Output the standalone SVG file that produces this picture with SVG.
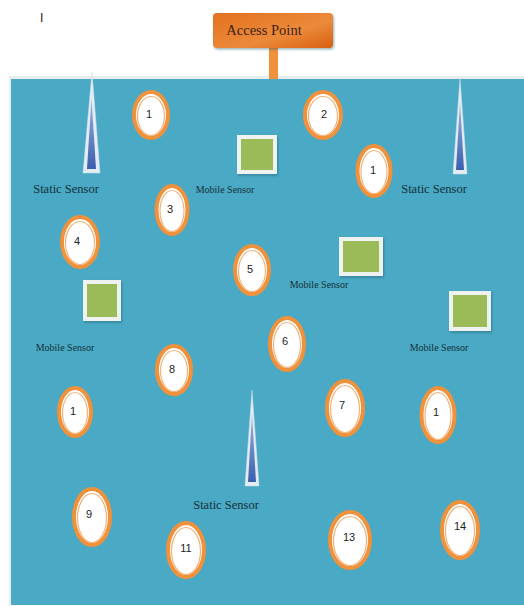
<svg xmlns="http://www.w3.org/2000/svg" width="524" height="606" viewBox="0 0 524 606">
<defs>
  <linearGradient id="apg" x1="0" y1="0" x2="1" y2="1">
    <stop offset="0" stop-color="#e2711f"/>
    <stop offset="0.6" stop-color="#ec8a3a"/>
    <stop offset="1" stop-color="#d95f12"/>
  </linearGradient>
  <linearGradient id="spk" x1="0" y1="0" x2="0" y2="1">
    <stop offset="0" stop-color="#9db4dc"/>
    <stop offset="1" stop-color="#3a5fae"/>
  </linearGradient>
  <filter id="sh" x="-20%" y="-20%" width="140%" height="140%">
    <feDropShadow dx="1" dy="1.5" stdDeviation="1" flood-color="#1d5566" flood-opacity="0.45"/>
  </filter>
</defs>
<style>
  .st { font-family: "Liberation Serif", "Times New Roman", serif; font-size: 12.5px; fill: #15303a; text-anchor: middle; }
  .mb { font-family: "Liberation Serif", "Times New Roman", serif; font-size: 10px; fill: #15303a; text-anchor: middle; }
  .num { font-family: "Liberation Sans", Arial, sans-serif; font-size: 11px; fill: #222; text-anchor: middle; }
  .ring { fill: #ffffff; stroke: #f0913c; stroke-width: 4; }
  .inner { fill: none; stroke: #f4b27a; stroke-width: 1.2; }
  .sq { fill: #9bbb59; stroke: #eef3f2; stroke-width: 4; }
  .spo { fill: #e4edf4; stroke: #cfdce8; stroke-width: 0.5; }
  .spi { fill: url(#spk); }
</style>

<rect x="0" y="0" width="524" height="606" fill="#ffffff"/>
<text x="40" y="22" font-family="Liberation Sans, Arial, sans-serif" font-size="12" fill="#222">I</text>

<!-- field -->
<rect x="9" y="76" width="515" height="4" fill="#e9ecee"/>
<rect x="9" y="76" width="2" height="530" fill="#e9ecee"/>
<rect x="11" y="79" width="513" height="526" fill="#4aa9c4"/>

<g id="connectors">
  <rect x="269" y="47" width="9" height="32" fill="#f0923c"/>
</g>

<g id="access-point">
  <rect x="213" y="13" width="120" height="35" rx="4" fill="url(#apg)" filter="url(#sh)"/>
  <text x="264" y="35" font-family="Liberation Serif, Times New Roman, serif" font-size="14.5" fill="#3a2410" text-anchor="middle">Access Point</text>
</g>

<!-- static sensors -->
<g id="static-sensor-1">
  <polygon class="spo" points="92,72 83,173 100,173"/>
  <polygon class="spi" points="91.5,98 87,169 96,169"/>
  <text class="st" x="66" y="193">Static Sensor</text>
</g>
<g id="static-sensor-2">
  <polygon class="spo" points="460,78 453,174 467,174"/>
  <polygon class="spi" points="460,102 456,170 464,170"/>
  <text class="st" x="434" y="193">Static Sensor</text>
</g>
<g id="static-sensor-3">
  <polygon class="spo" points="252,390 245,486 259,486"/>
  <polygon class="spi" points="252,414 248,482 256,482"/>
  <text class="st" x="226" y="509">Static Sensor</text>
</g>

<!-- mobile sensors -->
<g id="mobile-sensor-1">
  <rect class="sq" x="239" y="137" width="36" height="35" filter="url(#sh)"/>
  <text class="mb" x="225" y="193">Mobile Sensor</text>
</g>
<g id="mobile-sensor-2">
  <rect class="sq" x="341" y="239" width="40" height="35" filter="url(#sh)"/>
  <text class="mb" x="319" y="288">Mobile Sensor</text>
</g>
<g id="mobile-sensor-3">
  <rect class="sq" x="85" y="282" width="34" height="37" filter="url(#sh)"/>
  <text class="mb" x="65" y="351">Mobile Sensor</text>
</g>
<g id="mobile-sensor-4">
  <rect class="sq" x="451" y="293" width="38" height="36" filter="url(#sh)"/>
  <text class="mb" x="439" y="351">Mobile Sensor</text>
</g>

<!-- nodes -->
<g id="node-1a"><ellipse class="ring" cx="151" cy="115" rx="17" ry="23"/><ellipse class="inner" cx="151" cy="116" rx="13.5" ry="19.5"/><text class="num" x="149" y="118">1</text></g>
<g id="node-2"><ellipse class="ring" cx="323" cy="115" rx="18" ry="23"/><ellipse class="inner" cx="323" cy="116" rx="14.5" ry="19.5"/><text class="num" x="324" y="118">2</text></g>
<g id="node-1b"><ellipse class="ring" cx="374" cy="171" rx="16.5" ry="25"/><ellipse class="inner" cx="374" cy="172" rx="13" ry="21.5"/><text class="num" x="373" y="174">1</text></g>
<g id="node-3"><ellipse class="ring" cx="172" cy="210" rx="15.5" ry="24"/><ellipse class="inner" cx="172" cy="211" rx="12" ry="20.5"/><text class="num" x="170" y="213">3</text></g>
<g id="node-4"><ellipse class="ring" cx="80" cy="242" rx="18" ry="25"/><ellipse class="inner" cx="80" cy="243" rx="14.5" ry="21.5"/><text class="num" x="77" y="245">4</text></g>
<g id="node-5"><ellipse class="ring" cx="252" cy="270" rx="17" ry="24"/><ellipse class="inner" cx="252" cy="271" rx="13.5" ry="20.5"/><text class="num" x="250" y="273">5</text></g>
<g id="node-6"><ellipse class="ring" cx="287" cy="344" rx="17" ry="26"/><ellipse class="inner" cx="287" cy="345" rx="13.5" ry="22.5"/><text class="num" x="285" y="345">6</text></g>
<g id="node-8"><ellipse class="ring" cx="174" cy="370" rx="17" ry="24"/><ellipse class="inner" cx="174" cy="371" rx="13.5" ry="20.5"/><text class="num" x="172" y="373">8</text></g>
<g id="node-7"><ellipse class="ring" cx="345" cy="408" rx="18" ry="27"/><ellipse class="inner" cx="345" cy="409" rx="14.5" ry="23.5"/><text class="num" x="342" y="409">7</text></g>
<g id="node-1c"><ellipse class="ring" cx="75" cy="412" rx="16" ry="24"/><ellipse class="inner" cx="75" cy="413" rx="12.5" ry="20.5"/><text class="num" x="73" y="415">1</text></g>
<g id="node-1d"><ellipse class="ring" cx="438" cy="415" rx="16.5" ry="27"/><ellipse class="inner" cx="438" cy="416" rx="13" ry="23.5"/><text class="num" x="436" y="416">1</text></g>
<g id="node-9"><ellipse class="ring" cx="92" cy="517" rx="18" ry="28"/><ellipse class="inner" cx="92" cy="518" rx="14.5" ry="24.5"/><text class="num" x="89" y="518">9</text></g>
<g id="node-11"><ellipse class="ring" cx="186" cy="550" rx="18" ry="27"/><ellipse class="inner" cx="186" cy="551" rx="14.5" ry="23.5"/><text class="num" x="186" y="552">11</text></g>
<g id="node-13"><ellipse class="ring" cx="350" cy="540" rx="20" ry="28"/><ellipse class="inner" cx="350" cy="541" rx="16.5" ry="24.5"/><text class="num" x="349" y="541">13</text></g>
<g id="node-14"><ellipse class="ring" cx="460" cy="530" rx="18" ry="28"/><ellipse class="inner" cx="460" cy="531" rx="14.5" ry="24.5"/><text class="num" x="460" y="530">14</text></g>
</svg>
